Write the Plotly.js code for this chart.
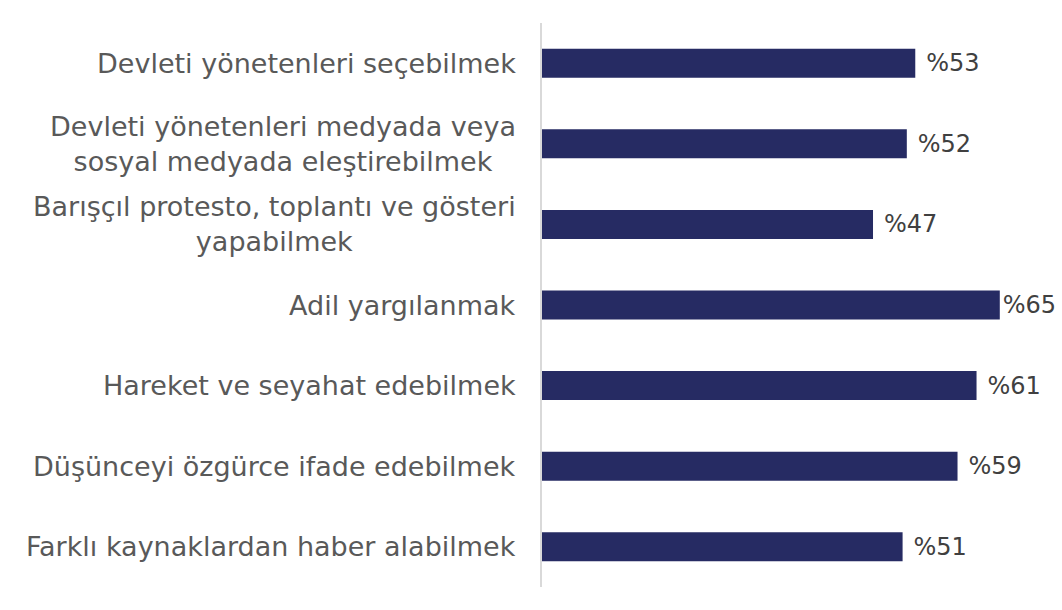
<!DOCTYPE html>
<html>
<head>
<meta charset="utf-8">
<script src="https://cdn.plot.ly/plotly-3.0.1.min.js"></script>
<style>
  html, body { margin: 0; padding: 0; background: #fff; }
  #chart { width: 1062px; height: 610px; }
</style>
</head>
<body>
<div id="chart"></div>
<script>
// kategoriler (yukarıdan aşağıya)
const categories = [
  "Devleti yönetenleri seçebilmek",
  "Devleti yönetenleri medyada veya<br>sosyal medyada eleştirebilmek",
  "Barışçıl protesto, toplantı ve gösteri<br>yapabilmek",
  "Adil yargılanmak",
  "Hareket ve seyahat edebilmek",
  "Düşünceyi özgürce ifade edebilmek",
  "Farklı kaynaklardan haber alabilmek",
];
// çubuk uzunlukları
const values = [53, 51.8, 47, 65, 61.7, 59, 51.2];
// yazılı yüzdeler
const percentLabels = [53, 52, 47, 65, 61, 59, 51];

const BAR_COLOR = "#262b63";
const LABEL_FONT = "DejaVu Sans, sans-serif";

const maxVal = Math.max(...values);
const valueLabels = percentLabels.map((p, i) =>
  (values[i] === maxVal ? "%" : "\u2004%") + p
);

const data = [
  {
    type: "bar",
    orientation: "h",
    y: categories,
    x: values,
    marker: { color: BAR_COLOR },
    text: valueLabels,
    textposition: "outside",
    cliponaxis: false,
    textfont: { family: LABEL_FONT, size: 24, color: "#404040" },
    hoverinfo: "skip",
  },
];

// kategori etiketleri: satırlar ortalı, sağa yaslı blok
const annotations = categories.map((c) => ({
  text: c,
  xref: "paper",
  yref: "y",
  x: 0,
  y: c,
  xanchor: "right",
  yanchor: "middle",
  xshift: -24,
  align: "center",
  showarrow: false,
  font: { family: LABEL_FONT, size: 27, color: "#595959" },
}));

const layout = {
  width: 1062,
  height: 610,
  paper_bgcolor: "#ffffff",
  plot_bgcolor: "#ffffff",
  showlegend: false,
  bargap: 0.64,
  margin: { l: 542, r: 27, t: 23, b: 23 },
  xaxis: {
    range: [0, 70],
    showgrid: false,
    zeroline: false,
    showticklabels: false,
    showline: false,
    fixedrange: true,
  },
  yaxis: {
    autorange: "reversed",
    showticklabels: false,
    showgrid: false,
    zeroline: false,
    showline: true,
    linecolor: "#d9d9d9",
    linewidth: 2,
    fixedrange: true,
  },
  annotations: annotations,
};

Plotly.newPlot("chart", data, layout, { displayModeBar: false, staticPlot: true });
</script>
</body>
</html>
